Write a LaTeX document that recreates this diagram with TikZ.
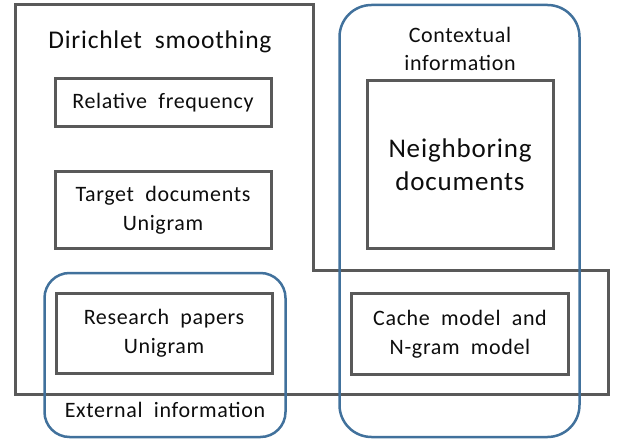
\documentclass[tikz,border=0pt]{standalone}
\usepackage{fontspec}
\setmainfont[LetterSpace=3,WordSpace=2]{Carlito}
\definecolor{boxgray}{HTML}{595959}
\definecolor{ringblue}{HTML}{41719C}
\definecolor{txt}{HTML}{0D0D0D}
\begin{document}
\begin{tikzpicture}[x=1pt,y=-1pt,
  inner/.style={draw=boxgray,line width=3pt,minimum width=#1,align=center,text=txt,font=\fontsize{22}{29}\selectfont,inner sep=0pt},
  ring/.style={draw=ringblue,line width=2.5pt,rounded corners=#1},
  lbl/.style={text=txt,align=center,font=\fontsize{22}{28}\selectfont}]
\useasboundingbox (0,0) rectangle (619,441);
% Dirichlet outline
\draw[boxgray,line width=3pt,line join=miter] (15,5) -- (313,5) -- (313,270) -- (608,270) -- (608,394) -- (15,394) -- cycle;
\node[lbl,font=\fontsize{25.5}{30}\selectfont] (dir) at (160,42) {Dirichlet smoothing};
% blue regions
\node[ring=25pt,minimum width=241pt,minimum height=164pt,inner sep=0pt] (ext) at (165,355) {};
\node[ring=32pt,minimum width=240pt,minimum height=432pt,inner sep=0pt] (ctx) at (459.5,221) {};
\node[lbl] (extl) at (165,410) {External information};
\node[lbl] (ctxl) at (460,49) {Contextual\\information};
% inner boxes
\node[inner=216pt,minimum height=48pt] (rel) at (163,103) {Relative frequency};
\node[inner=216pt,minimum height=76pt] (tgt) at (163,210) {Target documents\\Unigram};
\node[inner=216pt,minimum height=80pt] (res) at (164,333) {Research papers\\Unigram};
\node[inner=217pt,minimum height=81pt] (cache) at (460,334) {Cache model and\\N-gram model};
\node[inner=186pt,minimum height=167pt,font=\fontsize{27}{33}\selectfont] (neigh) at (460,164.5) {Neighboring\\documents};
\end{tikzpicture}
\end{document}
